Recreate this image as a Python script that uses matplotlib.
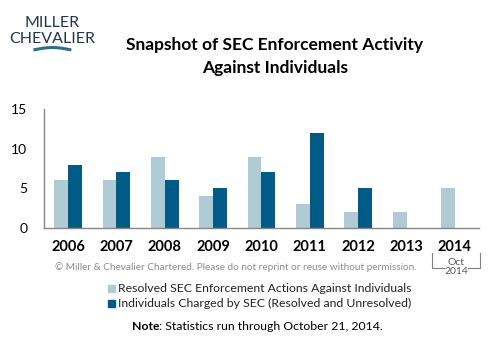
import matplotlib.pyplot as plt
import numpy as np

years = ["2006", "2007", "2008", "2009", "2010", "2011", "2012", "2013", "2014"]
resolved = [6, 6, 9, 4, 9, 3, 2, 2, 5]
charged = [8, 7, 6, 5, 7, 12, 5, 0, 0]

light = "#AECBD6"
dark = "#005B87"
font = "Lato"

fig = plt.figure(figsize=(4.99, 3.6), dpi=100)
ax = fig.add_axes([0.088, 0.3667, 0.872, 0.3306])

x = np.arange(len(years))
w = 0.285
ax.bar(x - w / 2, resolved, w, color=light)
ax.bar(x + w / 2, charged, w, color=dark)

ax.set_xlim(-0.5, len(years) - 0.5)
ax.set_ylim(0, 15)
ax.set_yticks([0, 5, 10, 15])
ax.set_xticks(x)
ax.set_xticklabels(years, fontfamily=font, fontweight="bold", fontsize=10.5)
for t in ax.get_yticklabels():
    t.set_fontfamily(font)
    t.set_fontsize(10)
ax.tick_params(axis="both", length=0, pad=9)
ax.tick_params(axis="y", pad=12)
for s in ["top", "right"]:
    ax.spines[s].set_visible(False)
for s in ["left", "bottom"]:
    ax.spines[s].set_color("#868686")
    ax.spines[s].set_linewidth(1)

# title
fig.text(0.551, 0.875, "Snapshot of SEC Enforcement Activity", ha="center", va="center",
         fontfamily=font, fontweight="bold", fontsize=12.5)
fig.text(0.551, 0.811, "Against Individuals", ha="center", va="center",
         fontfamily=font, fontweight="bold", fontsize=12.5)

# logo
logo_c = "#1F3550"
fig.text(0.105, 0.937, "MILLER", ha="center", va="center", fontfamily=font,
         fontsize=11.5, color=logo_c)
fig.text(0.105, 0.893, "CHEVALIER", ha="center", va="center", fontfamily=font,
         fontsize=11.5, color=logo_c)
sx = np.linspace(0.07, 0.14, 30)
sy = 0.862 + 0.006 * np.sin((sx - 0.07) / 0.07 * np.pi)
fig.add_artist(plt.Line2D(sx, sy, color="#2E6C8E", lw=2.2, transform=fig.transFigure))

# copyright
fig.text(0.11, 0.258, "\u00a9 Miller & Chevalier Chartered. Please do not reprint or reuse without permission.",
         ha="left", va="center", fontfamily=font, fontsize=7.2, color="#8C8C8C")

# Oct 2014 bracket
bx = [0.866, 0.866, 0.89]
by = [0.296, 0.255, 0.255]
fig.add_artist(plt.Line2D(bx, by, color="#7F7F7F", lw=0.8, transform=fig.transFigure))
bx2 = [0.938, 0.962, 0.962]
fig.add_artist(plt.Line2D(bx2, by[::-1], color="#7F7F7F", lw=0.8, transform=fig.transFigure))
fig.text(0.914, 0.272, "Oct", ha="center", va="center", fontfamily=font, fontsize=7.5, color="#595959")
fig.text(0.914, 0.245, "2014", ha="center", va="center", fontfamily=font, fontsize=7.5, color="#595959")

# legend
labels = ["Resolved SEC Enforcement Actions Against Individuals",
          "Individuals Charged by SEC (Resolved and Unresolved)"]
for i, (lab, c) in enumerate(zip(labels, [light, dark])):
    yy = 0.2 - i * 0.0417
    fig.patches.append(plt.Rectangle((0.216, yy - 0.011), 0.014, 0.02, color=c,
                                     transform=fig.transFigure))
    fig.text(0.236, yy, lab, ha="left", va="center", fontfamily=font, fontsize=8.8, color="#222222")

# note: bold "Note" followed by regular text
r = fig.canvas.get_renderer()
t1 = fig.text(0, 0.092, "Note", ha="left", va="center", fontfamily=font, fontweight="bold", fontsize=8.8)
t2 = fig.text(0, 0.092, ": Statistics run through October 21, 2014.", ha="left", va="center",
              fontfamily=font, fontsize=8.8)
w1 = t1.get_window_extent(r).width / fig.bbox.width
w2 = t2.get_window_extent(r).width / fig.bbox.width
x0 = 0.516 - (w1 + w2) / 2
t1.set_x(x0)
t2.set_x(x0 + w1)

fig.savefig("out.png", dpi=100)
